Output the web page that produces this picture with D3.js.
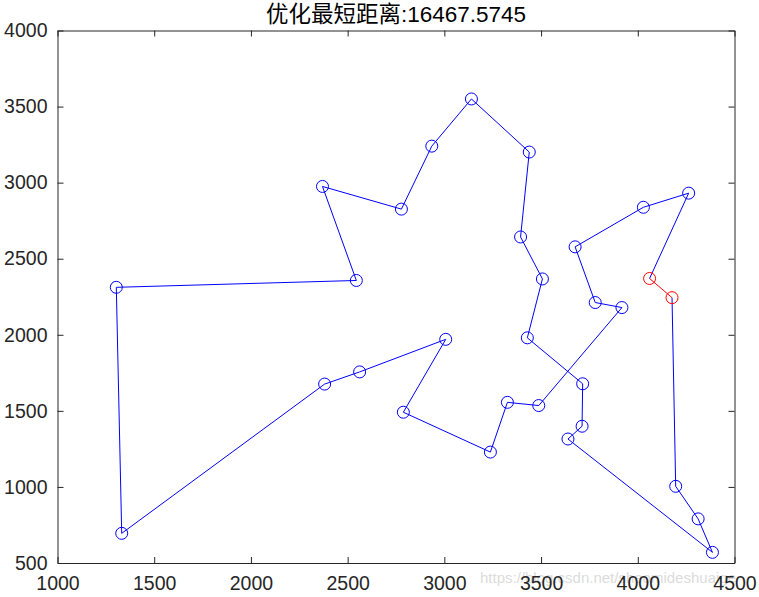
<!DOCTYPE html>
<html><head><meta charset="utf-8">
<script src="https://cdn.jsdelivr.net/npm/d3@7"></script>
<style>body{margin:0;background:#fff}</style>
</head><body>
<svg id="c" width="759" height="597"></svg>
<script>
// City coordinates in tour order (start city first)
const tourX = [4061,4177,4196,4312,4386,3639,3712,3715,3429,3507,3394,3439,3140,2935,2778,2370,2545,1304,1332,2381,2562,3007,2788,3238,3326,3488,3918,3780,3676,4029,4263];
const tourY = [2370,2244,1004,790,570,1315,1399,1678,1980,2367,2643,3201,3550,3240,2826,2975,2357,2312,695,1676,1756,1970,1491,1229,1556,1535,2179,2212,2578,2838,2931];
const xTicks = [1000,1500,2000,2500,3000,3500,4000,4500];
const yTicks = [500,1000,1500,2000,2500,3000,3500,4000];
const titleText = "优化最短距离:16467.5745";

const svg = d3.select("#c");
const L = 57.5, R = 734.5, T = 30.5, B = 563;
const x = d3.scaleLinear().domain([1000,4500]).range([L,R]);
const y = d3.scaleLinear().domain([500,4000]).range([B,T]);
const ink = "#262626";
const font = "'Liberation Sans', Arial, sans-serif";

svg.append("rect").attr("width",759).attr("height",597).attr("fill","#fff");

// watermark
svg.append("text").attr("x",480).attr("y",583).attr("font-family",font).attr("font-size",15)
  .attr("fill","#dcdcdc").text("https://blog.csdn.net/sheomideshuaige");

// axes
const gx = svg.append("g").attr("transform",`translate(0,${B})`)
  .call(d3.axisBottom(x).tickValues(xTicks).tickSizeInner(-6).tickSizeOuter(0).tickPadding(13).tickFormat(d3.format("d")));
const gxt = svg.append("g").attr("transform",`translate(0,${T})`)
  .call(d3.axisTop(x).tickValues(xTicks).tickSizeInner(-6).tickSizeOuter(0).tickFormat(""));
const gy = svg.append("g").attr("transform",`translate(${L},0)`)
  .call(d3.axisLeft(y).tickValues(yTicks).tickSizeInner(-6).tickSizeOuter(0).tickPadding(10).tickFormat(d3.format("d")));
const gyr = svg.append("g").attr("transform",`translate(${R},0)`)
  .call(d3.axisRight(y).tickValues(yTicks).tickSizeInner(-6).tickSizeOuter(0).tickFormat(""));
[gx,gxt,gy,gyr].forEach(g=>{
  g.selectAll("path").attr("stroke",ink).attr("stroke-width",1);
  g.selectAll("line").attr("stroke",ink).attr("stroke-width",1);
  g.selectAll("text").attr("fill",ink).attr("font-family",font).attr("font-size",19.5);
});
gx.selectAll("text").attr("dy","0.71em");

// title
svg.append("text").attr("x",(L+R)/2).attr("y",22).attr("text-anchor","middle")
  .attr("font-family","'Liberation Sans','Noto Sans CJK SC',sans-serif").attr("font-size",22.5).attr("fill","#000")
  .text(titleText);

// tour
const n = tourX.length;
const pts = tourX.map((v,i)=>[x(v), y(tourY[i])]);
svg.append("path").attr("d", d3.line()(d3.range(1,n).map(i=>pts[i]).concat([pts[0]])))
  .attr("fill","none").attr("stroke","#0000ff").attr("stroke-width",1);
svg.append("path").attr("d", d3.line()([pts[0],pts[1]]))
  .attr("fill","none").attr("stroke","#ff0000").attr("stroke-width",1);
svg.selectAll("circle.p").data(pts).enter().append("circle")
  .attr("cx",d=>d[0]).attr("cy",d=>d[1]).attr("r",6)
  .attr("fill","none").attr("stroke",(d,i)=>i<2?"#ff0000":"#0000ff").attr("stroke-width",1);
</script>
</body></html>
